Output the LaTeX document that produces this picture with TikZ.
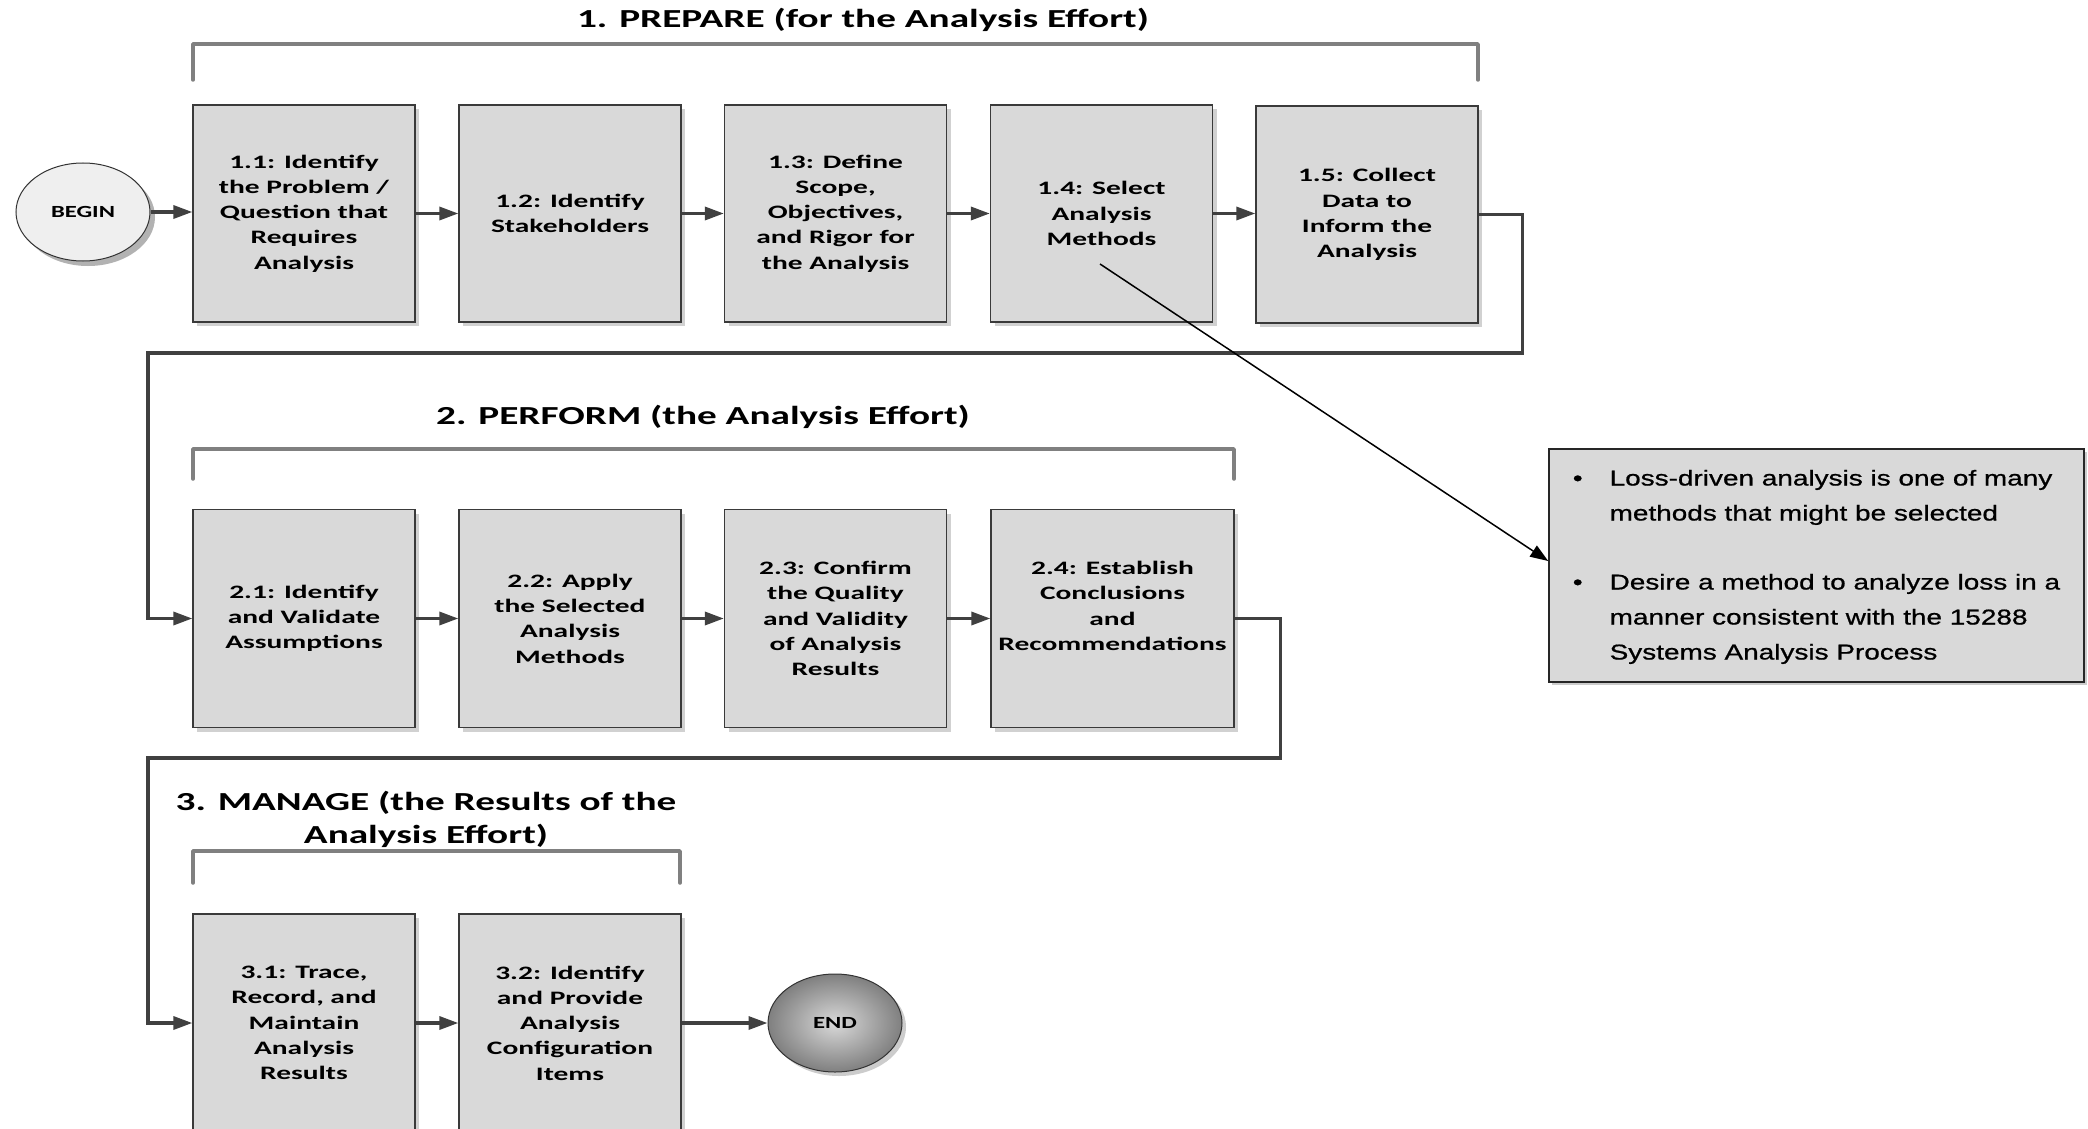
\documentclass[tikz,border=0pt]{standalone}
\usepackage{fontspec}
\setmainfont{Carlito}
\newfontfamily\boxfont[FakeStretch=1.55]{Carlito}
\newfontfamily\titlefont[FakeStretch=1.51]{Carlito}
\newfontfamily\termfont[FakeStretch=1.45]{Carlito}
\newfontfamily\notefont[FakeStretch=1.3,FakeBold=0.8]{Liberation Sans}
\usetikzlibrary{arrows.meta,shadows,shapes.geometric}
\definecolor{boxfill}{HTML}{D9D9D9}
\definecolor{boxline}{HTML}{3A3A3A}
\definecolor{connc}{HTML}{404040}
\definecolor{brackc}{HTML}{808080}
\definecolor{beginfill}{HTML}{EFEFEF}
\begin{document}
\begin{tikzpicture}[x=1pt,y=-1pt,
  stepbox/.style={draw=boxline, line width=1.3pt, fill=boxfill,
    minimum width=222pt, minimum height=217pt, align=center, inner sep=0pt,
    font=\boxfont\bfseries\fontsize{19}{25.3}\selectfont,
    drop shadow={shadow xshift=4pt, shadow yshift=-4pt, fill=black!18, opacity=1}},
  titletext/.style={align=center, inner sep=0pt,
    font=\titlefont\bfseries\fontsize{26}{33}\selectfont},
  terminal/.style={ellipse, draw=black!80, line width=1pt, minimum width=134pt,
    minimum height=98pt, inner sep=0pt,
    font=\termfont\bfseries\fontsize{17}{20}\selectfont},
  conn/.style={draw=connc, line width=3.3pt, -{Triangle[length=19pt,width=13pt]}},
  bracketline/.style={draw=brackc, line width=3.5pt, line cap=round, line join=round},
  notebox/.style={draw=black!85, line width=1.6pt, fill=boxfill,
    minimum width=535pt, minimum height=233pt, inner sep=0pt,
    font=\notefont\fontsize{21.5}{35}\selectfont,
    drop shadow={shadow xshift=3pt, shadow yshift=-3pt, fill=black!20, opacity=1}},
  callout/.style={draw=black, line width=1.5pt, -{Triangle[length=18pt,width=13pt]}}
]
\fill[white] (0,0) rectangle (2088,1129);
\useasboundingbox (0,0) rectangle (2088,1129);

% ---------- titles and brackets
\node[titletext] (t1) at (863,20) {1. PREPARE (for the Analysis Effort)};
\draw[bracketline] (193,80) -- (193,44) -- (1478,44) -- (1478,80);
\node[titletext] (t2) at (703,417) {2. PERFORM (the Analysis Effort)};
\draw[bracketline] (193,479) -- (193,449) -- (1234,449) -- (1234,479);
\node[titletext] (t3) at (426,819.5) {3. MANAGE (the Results of the\\Analysis Effort)};
\draw[bracketline] (193,883) -- (193,851) -- (680,851) -- (680,883);

% ---------- terminals
\node[terminal, fill=beginfill,
  drop shadow={shadow xshift=5pt, shadow yshift=-5pt, fill=black!30, opacity=1}]
  (begin) at (83,212) {BEGIN};
\node[terminal, shading=radial, inner color=black!15, outer color=black!50,
  drop shadow={shadow xshift=4pt, shadow yshift=-4pt, fill=black!20, opacity=1}]
  (end) at (835,1023) {END};

% ---------- row 1
\node[stepbox] (b11) at (304,213.5) {1.1: Identify\\the Problem /\\Question that\\Requires\\Analysis};
\node[stepbox] (b12) at (570,213.5) {1.2: Identify\\Stakeholders};
\node[stepbox] (b13) at (835.5,213.5) {1.3: Define\\Scope,\\Objectives,\\and Rigor for\\the Analysis};
\node[stepbox] (b14) at (1101.5,213.5) {1.4: Select\\Analysis\\Methods};
\node[stepbox] (b15) at (1367,214.5) {1.5: Collect\\Data to\\Inform the\\Analysis};

% ---------- row 2
\node[stepbox, minimum height=218pt] (b21) at (304,618.5) {2.1: Identify\\and Validate\\Assumptions};
\node[stepbox, minimum height=218pt] (b22) at (570,618.5) {2.2: Apply\\the Selected\\Analysis\\Methods};
\node[stepbox, minimum height=218pt] (b23) at (835.5,618.5) {2.3: Confirm\\the Quality\\and Validity\\of Analysis\\Results};
\node[stepbox, minimum height=218pt, minimum width=243pt] (b24) at (1112.5,618.5) {2.4: Establish\\Conclusions\\and\\Recommendations\\\mbox{}};

% ---------- row 3
\node[stepbox, minimum height=218pt] (b31) at (304,1023) {3.1: Trace,\\Record, and\\Maintain\\Analysis\\Results};
\node[stepbox, minimum height=218pt] (b32) at (570,1023) {3.2: Identify\\and Provide\\Analysis\\Configuration\\Items};

% ---------- note
\node[notebox] (note) at (1816.5,565.5) {%
  \begin{tabular}{@{}l@{\hspace{27pt}}l@{}}
  \textbullet & Loss-driven analysis is one of many\\
   & methods that might be selected\\[34pt]
  \textbullet & Desire a method to analyze loss in a\\
   & manner consistent with the 15288\\
   & Systems Analysis Process
  \end{tabular}};

% ---------- waypoints
\coordinate (c1) at (148,353);
\coordinate (c2) at (148,758);
\coordinate (p14) at (1100,264);

% ---------- connectors
\draw[conn] (begin.east) -- (b11.west |- begin.east);
\draw[conn] (b11.east) -- (b12.west);
\draw[conn] (b12.east) -- (b13.west);
\draw[conn] (b13.east) -- (b14.west);
\draw[conn] (b14.east) -- (b15.west |- b14.east);
\draw[conn, line join=miter] (b15.east) -- ++(44,0) |- (c1) |- (b21.west);
\draw[conn] (b21.east) -- (b22.west);
\draw[conn] (b22.east) -- (b23.west);
\draw[conn] (b23.east) -- (b24.west);
\draw[conn, line join=miter] (b24.east) -- ++(46,0) |- (c2) |- (b31.west);
\draw[conn] (b31.east) -- (b32.west);
\draw[conn] (b32.east) -- (end.west);
\draw[callout] (p14) -- ([yshift=4.5pt]note.west);
\end{tikzpicture}
\end{document}
